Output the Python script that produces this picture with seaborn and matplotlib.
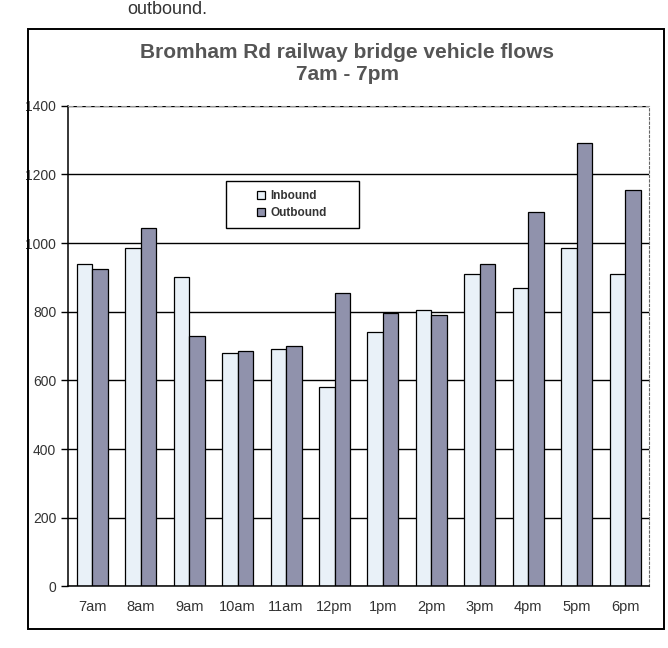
import numpy as np
import pandas as pd
import matplotlib
matplotlib.use('Agg')
import matplotlib.pyplot as plt
import seaborn as sns
from matplotlib.patches import Rectangle
from matplotlib.ticker import MultipleLocator, FixedLocator

# data
hours = ['7am', '8am', '9am', '10am', '11am', '12pm', '1pm', '2pm', '3pm', '4pm', '5pm', '6pm']
inbound = [940, 985, 900, 680, 690, 580, 740, 805, 910, 870, 985, 910]
outbound = [925, 1045, 730, 685, 700, 855, 795, 790, 940, 1090, 1290, 1155]
series = ['Inbound', 'Outbound']
colors = ['#E9F1F8', '#9092AC']

df = pd.DataFrame({
    'hour': hours * 2,
    'flow': inbound + outbound,
    'direction': ['Inbound'] * len(hours) + ['Outbound'] * len(hours),
})

sns.set_style('white')
plt.rcParams['font.family'] = ['Liberation Sans', 'DejaVu Sans']

fig = plt.figure(figsize=(6.68, 6.48), dpi=100)
ax = fig.add_axes([0.102, 0.095, 0.870, 0.742])

sns.barplot(data=df, x='hour', y='flow', hue='direction', order=hours,
            hue_order=series, palette=colors, width=0.64,
            edgecolor='black', linewidth=0.9, saturation=1, ax=ax)

ax.set_ylim(0, 1400)
ax.set_xlim(-0.5, len(hours) - 0.5)
ax.yaxis.set_major_locator(MultipleLocator(200))
ax.yaxis.grid(True, color='black', linewidth=1.0)
ax.set_axisbelow(True)
ax.set_xlabel('')
ax.set_ylabel('')

# tick marks between categories, excel style
ax.xaxis.set_minor_locator(FixedLocator(np.arange(-0.5, len(hours), 1.0)))
ax.tick_params(axis='x', which='major', length=0, pad=10, labelsize=10.5, labelcolor='#333333')
ax.tick_params(axis='x', which='minor', length=4, width=1, color='black', direction='out')
ax.tick_params(axis='y', length=5, width=1, color='black', direction='out',
               labelsize=10, labelcolor='#333333', left=True)

for s in ['left', 'bottom']:
    ax.spines[s].set_color('black')
    ax.spines[s].set_linewidth(1.1)
ax.spines['top'].set_color('#999999')
ax.spines['top'].set_linestyle((0, (4, 4)))
ax.spines['top'].set_linewidth(0.8)
ax.spines['right'].set_color('#666666')
ax.spines['right'].set_linestyle((0, (2, 2)))
ax.spines['right'].set_linewidth(0.8)

# legend box (wide excel style frame drawn separately)
ax.add_patch(Rectangle((2.75, 1045), 2.75, 135, fill=True, facecolor='white',
                       edgecolor='black', linewidth=1.0, zorder=5))
leg = ax.legend(loc='center', bbox_to_anchor=(4.12, 1112), bbox_transform=ax.transData,
                frameon=False, fontsize=8.5, handlelength=0.7, handleheight=0.7,
                handletextpad=0.4, borderpad=0.3, labelspacing=0.45)
leg.set_zorder(6)
for t in leg.get_texts():
    t.set_fontweight('bold')
    t.set_color('#333333')

fig.text(0.52, 0.902, 'Bromham Rd railway bridge vehicle flows\n7am - 7pm',
         ha='center', va='center', fontsize=15, fontweight='bold',
         color='#555555', linespacing=1.2)

# outer chart border
fig.patches.append(Rectangle((0.042, 0.030), 0.952, 0.925, transform=fig.transFigure,
                             fill=False, edgecolor='black', linewidth=1.4))

# document text at the top of the scan
fig.text(0.19, 0.999, 'outbound.', ha='left', va='top', fontsize=13, color='#333333')

fig.savefig('out.png', dpi=100)
print('saved out.png')
